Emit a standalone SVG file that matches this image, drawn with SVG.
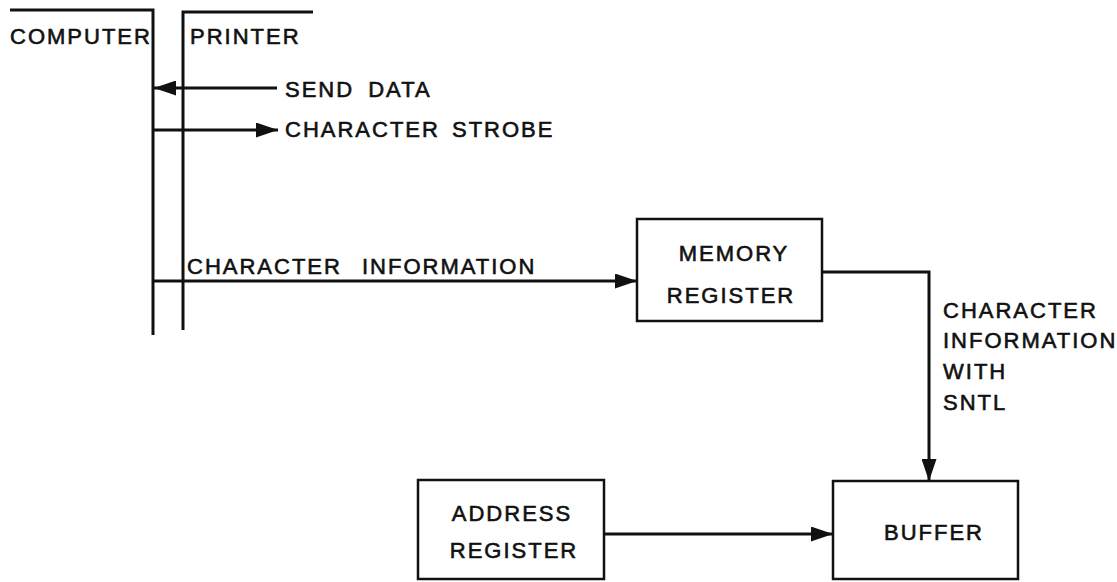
<svg xmlns="http://www.w3.org/2000/svg" width="1117" height="582" viewBox="0 0 1117 582">
  <style>
    text { font-family: "Liberation Sans", Arial, sans-serif; font-size: 22px; letter-spacing: 2px; fill: #111; stroke: #111; stroke-width: 0.6px; }
    .mid { text-anchor: middle; }
    .box { fill: #fff; stroke: #111; stroke-width: 2.5; }
    .bus { fill: none; stroke: #111; stroke-width: 3; }
    .wire { fill: none; stroke: #111; stroke-width: 3; }
  </style>
  <defs>
    <marker id="arrow" viewBox="0 0 22 15" refX="22" refY="7.5" markerWidth="22" markerHeight="15" markerUnits="userSpaceOnUse" orient="auto">
      <path d="M0,0 L22,7.5 L0,15 Z" fill="#111"/>
    </marker>
  </defs>

  <rect width="1117" height="582" fill="#fff"/>

  <!-- interface boundary between computer and printer -->
  <g id="computer">
    <polyline class="bus" points="10,10 153,10 153,335"/>
    <text x="10" y="44" letter-spacing="1.2">COMPUTER</text>
  </g>
  <g id="printer">
    <polyline class="bus" points="313,12 183,12 183,330"/>
    <text x="190" y="44">PRINTER</text>
  </g>

  <g id="memory-register">
    <rect class="box" x="637" y="219" width="185" height="102"/>
    <text class="mid" x="734" y="261">MEMORY</text>
    <text class="mid" x="731" y="303">REGISTER</text>
  </g>

  <g id="address-register">
    <rect class="box" x="418" y="480" width="186" height="99"/>
    <text class="mid" x="512" y="521">ADDRESS</text>
    <text class="mid" x="514" y="558">REGISTER</text>
  </g>

  <g id="buffer">
    <rect class="box" x="833" y="481" width="185" height="98"/>
    <text class="mid" x="934" y="540">BUFFER</text>
  </g>

  <g id="connectors">
    <line class="wire" x1="277" y1="88" x2="154" y2="88" marker-end="url(#arrow)"/>
    <line class="wire" x1="153" y1="130" x2="278" y2="130" marker-end="url(#arrow)"/>
    <line class="wire" x1="153" y1="281" x2="637" y2="281" marker-end="url(#arrow)"/>
    <path class="wire" d="M822,272 H929 V481" marker-end="url(#arrow)"/>
    <line class="wire" x1="604" y1="534" x2="833" y2="534" marker-end="url(#arrow)"/>
  </g>

  <g id="labels">
    <text x="285" y="97" word-spacing="6">SEND DATA</text>
    <text x="285" y="137" word-spacing="4">CHARACTER STROBE</text>
    <text x="187" y="274" word-spacing="12">CHARACTER INFORMATION</text>
    <text x="943" y="318">CHARACTER</text>
    <text x="943" y="348">INFORMATION</text>
    <text x="943" y="379">WITH</text>
    <text x="943" y="410">SNTL</text>
  </g>
</svg>
